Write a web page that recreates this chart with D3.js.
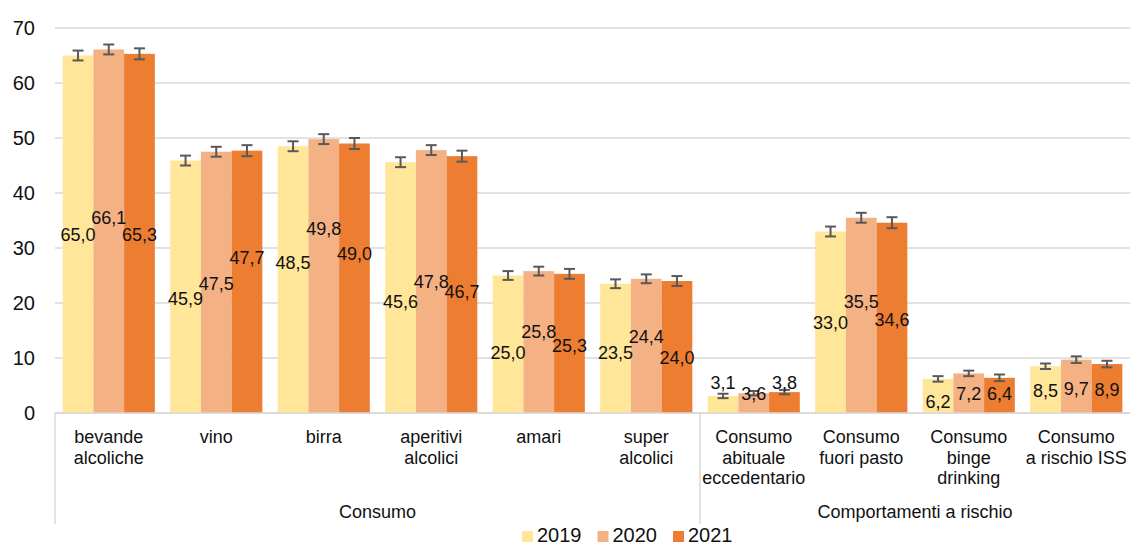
<!DOCTYPE html>
<html>
<head>
<meta charset="utf-8">
<script src="https://cdn.jsdelivr.net/npm/d3@7/dist/d3.min.js"></script>
<style>
    html, body { margin: 0; padding: 0; background: #fff; }
    svg text { font-family: "Liberation Sans", Arial, sans-serif; fill: #111; }
</style>
</head>
<body>
<div class="bar-content"></div>
<script>
// categorie (righe dell'etichetta) e gruppi
var categories = [
    ['bevande', 'alcoliche'], ['vino'], ['birra'], ['aperitivi', 'alcolici'], ['amari'],
    ['super', 'alcolici'], ['Consumo', 'abituale', 'eccedentario'], ['Consumo', 'fuori pasto'],
    ['Consumo', 'binge', 'drinking'], ['Consumo', 'a rischio ISS']
];
var groups = ['Consumo', 'Comportamenti a rischio'];
var groupSizes = [6, 4];
var years = ['2019', '2020', '2021'];

// valori (%)
var values2019 = [65.0, 45.9, 48.5, 45.6, 25.0, 23.5, 3.1, 33.0, 6.2, 8.5];
var values2020 = [66.1, 47.5, 49.8, 47.8, 25.8, 24.4, 3.6, 35.5, 7.2, 9.7];
var values2021 = [65.3, 47.7, 49.0, 46.7, 25.3, 24.0, 3.8, 34.6, 6.4, 8.9];

// semi-ampiezza intervalli di confidenza (stimati)
var err2019 = [0.9, 0.9, 0.9, 0.9, 0.8, 0.8, 0.4, 0.9, 0.5, 0.5];
var err2020 = [0.9, 0.9, 0.9, 0.9, 0.8, 0.8, 0.4, 0.9, 0.5, 0.6];
var err2021 = [1.0, 1.0, 1.0, 1.0, 0.9, 0.9, 0.4, 1.0, 0.6, 0.6];

var yTicks = [0, 10, 20, 30, 40, 50, 60, 70];

var seriesValues = [values2019, values2020, values2021];
var seriesErr = [err2019, err2020, err2021];
var colors = ['#FFE699', '#F4B183', '#ED7D31'];

// posizione verticale delle etichette dati (spostate a mano nell'originale), in unita' dell'asse y
var labelAt = [
    [32.4, 20.7, 27.3, 20.2, 10.9, 10.9, 5.5, 16.4, 2.0, 4.0],
    [35.5, 23.5, 33.5, 23.8, 14.7, 13.8, 3.6, 20.2, 3.6, 4.5],
    [32.4, 28.2, 28.9, 22.0, 12.2, 10.0, 5.6, 16.9, 3.6, 4.2]
];

var svgWidth = 1131,
    svgHeight = 545;
var plotLeft = 55,
    plotRight = 1130,
    plotTop = 28,
    plotBottom = 413;

var svg = d3.select('.bar-content')
    .append('svg')
    .attr('width', svgWidth)
    .attr('height', svgHeight);

var idx = d3.range(categories.length);

var x0 = d3.scaleBand()
    .domain(idx)
    .range([plotLeft, plotRight])
    .padding(0);
var x1 = d3.scaleBand()
    .domain(years)
    .range([0, x0.bandwidth()])
    .paddingInner(0)
    .paddingOuter(0.25);
var y = d3.scaleLinear()
    .domain([0, 70])
    .range([plotBottom, plotTop]);

// griglia orizzontale
svg.append('g')
    .selectAll('line')
    .data(yTicks)
    .enter()
    .append('line')
    .attr('x1', plotLeft)
    .attr('x2', plotRight)
    .attr('y1', function(d) { return y(d); })
    .attr('y2', function(d) { return y(d); })
    .style('stroke', '#d9d9d9')
    .style('stroke-width', 1.5);

// asse y
var yAxis = d3.axisLeft(y)
    .tickValues(yTicks)
    .tickSize(0)
    .tickPadding(20);
var yg = svg.append('g')
    .attr('transform', 'translate(' + plotLeft + ',0)')
    .call(yAxis);
yg.select('.domain').remove();
yg.selectAll('text')
    .style('font-size', '20px')
    .style('font-family', '"Liberation Sans", Arial, sans-serif')
    .attr('fill', '#111');

// barre
years.forEach(function(yr, s) {
    svg.append('g')
        .selectAll('rect')
        .data(seriesValues[s])
        .enter()
        .append('rect')
        .attr('x', function(d, i) { return x0(i) + x1(yr); })
        .attr('y', function(d) { return y(d); })
        .attr('width', x1.bandwidth())
        .attr('height', function(d) { return y(0) - y(d); })
        .style('fill', colors[s]);
});

// barre di errore
var capW = 11;
years.forEach(function(yr, s) {
    var g = svg.append('g')
        .style('stroke', '#595959')
        .style('stroke-width', 2);
    seriesValues[s].forEach(function(v, i) {
        var cx = x0(i) + x1(yr) + x1.bandwidth() / 2;
        var e = seriesErr[s][i];
        g.append('line').attr('x1', cx).attr('x2', cx).attr('y1', y(v + e)).attr('y2', y(v - e));
        g.append('line').attr('x1', cx - capW / 2).attr('x2', cx + capW / 2).attr('y1', y(v + e)).attr('y2', y(v + e));
        g.append('line').attr('x1', cx - capW / 2).attr('x2', cx + capW / 2).attr('y1', y(v - e)).attr('y2', y(v - e));
    });
});

// etichette dati
var fmt = function(v) { return d3.format('.1f')(v).replace('.', ','); };
years.forEach(function(yr, s) {
    svg.append('g')
        .selectAll('text')
        .data(seriesValues[s])
        .enter()
        .append('text')
        .attr('x', function(d, i) { return x0(i) + x1(yr) + x1.bandwidth() / 2; })
        .attr('y', function(d, i) { return y(labelAt[s][i]); })
        .attr('dy', '0.35em')
        .attr('text-anchor', 'middle')
        .style('font-size', '18px')
        .text(fmt);
});

// asse x
svg.append('line')
    .attr('x1', plotLeft).attr('x2', plotRight)
    .attr('y1', plotBottom).attr('y2', plotBottom)
    .style('stroke', '#d9d9d9')
    .style('stroke-width', 1.5);

var catLabels = svg.append('g');
categories.forEach(function(lines, i) {
    var t = catLabels.append('text')
        .attr('text-anchor', 'middle')
        .style('font-size', '18px');
    lines.forEach(function(l, k) {
        t.append('tspan')
            .attr('x', x0(i) + x0.bandwidth() / 2)
            .attr('y', 443 + k * 20.7)
            .text(l);
    });
});

// separatori e nomi dei gruppi
var start = 0;
groups.forEach(function(gName, gi) {
    var gx = x0(start);
    var gEnd = gi === groups.length - 1 ? plotRight : x0(start + groupSizes[gi]);
    svg.append('line')
        .attr('x1', gx).attr('x2', gx)
        .attr('y1', plotBottom).attr('y2', 524)
        .style('stroke', '#d9d9d9')
        .style('stroke-width', 1.5);
    svg.append('text')
        .attr('x', (gx + gEnd) / 2)
        .attr('y', 518)
        .attr('text-anchor', 'middle')
        .style('font-size', '18px')
        .text(gName);
    start += groupSizes[gi];
});

// legenda
var legend = svg.append('g')
    .attr('transform', 'translate(522, 0)');
years.forEach(function(yr, s) {
    var g = legend.append('g').attr('transform', 'translate(' + (s * 75.5) + ',0)');
    g.append('rect')
        .attr('x', 0).attr('y', 531)
        .attr('width', 11).attr('height', 11)
        .style('fill', colors[s]);
    g.append('text')
        .attr('x', 15)
        .attr('y', 542)
        .style('font-size', '20px')
        .text(yr);
});
</script>
</body>
</html>
